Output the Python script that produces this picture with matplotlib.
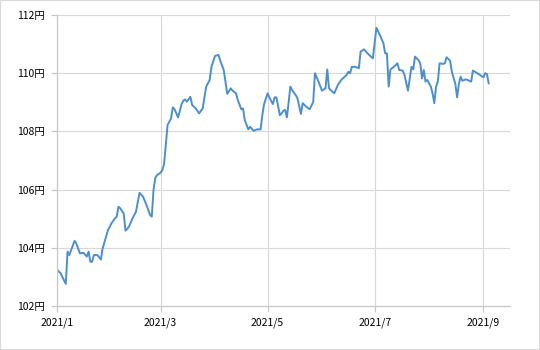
import pandas as pd
import matplotlib
matplotlib.use("Agg")
import matplotlib.pyplot as plt
from matplotlib.patches import Rectangle

plt.rcParams['font.family'] = ['Noto Sans CJK JP', 'DejaVu Sans']

# USD/JPY rate
dates = [
    "2021-01-01", "2021-01-03", "2021-01-04", "2021-01-06", "2021-01-07", "2021-01-08",
    "2021-01-11", "2021-01-12", "2021-01-14", "2021-01-16", "2021-01-18", "2021-01-19",
    "2021-01-20", "2021-01-21", "2021-01-22", "2021-01-24", "2021-01-26", "2021-01-27",
    "2021-01-30", "2021-02-01", "2021-02-03", "2021-02-04", "2021-02-05", "2021-02-06",
    "2021-02-08", "2021-02-09", "2021-02-10", "2021-02-11", "2021-02-13", "2021-02-15",
    "2021-02-17", "2021-02-19", "2021-02-21", "2021-02-23", "2021-02-24", "2021-02-25",
    "2021-02-26", "2021-02-27", "2021-03-01", "2021-03-02", "2021-03-03", "2021-03-05",
    "2021-03-07", "2021-03-08", "2021-03-09", "2021-03-11", "2021-03-13", "2021-03-14",
    "2021-03-15", "2021-03-16", "2021-03-18", "2021-03-19", "2021-03-21", "2021-03-23",
    "2021-03-25", "2021-03-27", "2021-03-29", "2021-03-30", "2021-04-01", "2021-04-03",
    "2021-04-04", "2021-04-06", "2021-04-07", "2021-04-08", "2021-04-10", "2021-04-11",
    "2021-04-13", "2021-04-14", "2021-04-16", "2021-04-17", "2021-04-18", "2021-04-20",
    "2021-04-21", "2021-04-23", "2021-04-25", "2021-04-27", "2021-04-28", "2021-04-29",
    "2021-05-01", "2021-05-02", "2021-05-04", "2021-05-05", "2021-05-06", "2021-05-08",
    "2021-05-09", "2021-05-10", "2021-05-11", "2021-05-12", "2021-05-14", "2021-05-15",
    "2021-05-17", "2021-05-18", "2021-05-20", "2021-05-21", "2021-05-23", "2021-05-25",
    "2021-05-27", "2021-05-28", "2021-05-30", "2021-06-01", "2021-06-03", "2021-06-04",
    "2021-06-05", "2021-06-07", "2021-06-08", "2021-06-10", "2021-06-12", "2021-06-15",
    "2021-06-16", "2021-06-17", "2021-06-18", "2021-06-20", "2021-06-22", "2021-06-23",
    "2021-06-25", "2021-06-27", "2021-06-30", "2021-07-02", "2021-07-04", "2021-07-06",
    "2021-07-07", "2021-07-08", "2021-07-09", "2021-07-10", "2021-07-12", "2021-07-14",
    "2021-07-15", "2021-07-17", "2021-07-18", "2021-07-20", "2021-07-22", "2021-07-23",
    "2021-07-24", "2021-07-26", "2021-07-27", "2021-07-28", "2021-07-29", "2021-07-30",
    "2021-07-31", "2021-08-02", "2021-08-03", "2021-08-04", "2021-08-05", "2021-08-06",
    "2021-08-07", "2021-08-09", "2021-08-10", "2021-08-11", "2021-08-13", "2021-08-14",
    "2021-08-16", "2021-08-17", "2021-08-18", "2021-08-19", "2021-08-20", "2021-08-22",
    "2021-08-24", "2021-08-25", "2021-08-26", "2021-08-28", "2021-08-30", "2021-09-01",
    "2021-09-02", "2021-09-03", "2021-09-04",
]
rates = [
    103.24, 103.13, 103.00, 102.76, 103.87, 103.75,
    104.24, 104.15, 103.81, 103.83, 103.70, 103.87,
    103.52, 103.52, 103.75, 103.75, 103.60, 103.98,
    104.60, 104.84, 105.01, 105.07, 105.41, 105.36,
    105.18, 104.59, 104.65, 104.73, 105.01, 105.24,
    105.89, 105.76, 105.47, 105.13, 105.07, 106.00,
    106.40, 106.50, 106.58, 106.67, 106.88, 108.22,
    108.45, 108.83, 108.76, 108.48, 108.94, 109.06,
    109.10, 109.02, 109.19, 108.91, 108.79, 108.62,
    108.79, 109.54, 109.77, 110.22, 110.59, 110.63,
    110.43, 110.11, 109.71, 109.29, 109.48, 109.40,
    109.31, 109.08, 108.76, 108.79, 108.39, 108.07,
    108.16, 108.02, 108.07, 108.07, 108.56, 108.94,
    109.31, 109.17, 108.94, 109.17, 109.17, 108.56,
    108.62, 108.71, 108.74, 108.48, 109.54, 109.42,
    109.25, 109.14, 108.60, 108.97, 108.85, 108.76,
    109.02, 110.00, 109.71, 109.40, 109.48, 110.13,
    109.48, 109.36, 109.31, 109.59, 109.77, 109.94,
    110.05, 110.00, 110.22, 110.22, 110.17, 110.74,
    110.82, 110.68, 110.51, 111.56, 111.31, 111.03,
    110.68, 110.68, 109.54, 110.13, 110.22, 110.34,
    110.11, 110.09, 109.94, 109.40, 110.22, 110.13,
    110.57, 110.45, 110.34, 109.82, 110.11, 109.71,
    109.77, 109.54, 109.31, 108.97, 109.54, 109.71,
    110.34, 110.32, 110.34, 110.55, 110.43, 110.05,
    109.63, 109.17, 109.63, 109.88, 109.74, 109.79,
    109.74, 109.71, 110.09, 110.02, 109.94, 109.86,
    110.00, 109.97, 109.65,
]
y_ticks = [102, 104, 106, 108, 110, 112]
x_ticks = ["2021-01-01", "2021-03-01", "2021-05-01", "2021-07-01", "2021-09-01"]

df = pd.DataFrame({"rate": rates}, index=pd.to_datetime(dates))

fig = plt.figure(figsize=(5.4, 3.5), dpi=100)
ax = fig.add_axes([0.1056, 0.1257, 0.8384, 0.8314])

ax.plot(df.index, df["rate"], color="#4d8fcc", lw=1.4)

ax.set_xlim(pd.Timestamp("2021-01-01"), pd.Timestamp("2021-09-16"))
ax.set_ylim(102, 112)
ax.set_yticks(y_ticks)
ax.set_yticklabels([f"{v}円" for v in y_ticks])
ax.set_xticks(pd.to_datetime(x_ticks))
ax.set_xticklabels([f"2021/{pd.Timestamp(d).month}" for d in x_ticks])

ax.grid(True, color="#d8d8d8", lw=0.8)
ax.set_axisbelow(True)
for s in ["top", "right"]:
    ax.spines[s].set_visible(False)
for s in ["left", "bottom"]:
    ax.spines[s].set_color("#c8c8c8")
    ax.spines[s].set_linewidth(0.9)
ax.tick_params(axis="both", colors="#c8c8c8", length=4, width=0.9,
               labelsize=7.5, labelcolor="black")
ax.tick_params(axis="x", pad=4)
ax.tick_params(axis="y", pad=5)

fig.patches.append(Rectangle((0, 0), 1, 1, transform=fig.transFigure,
                             fill=False, edgecolor="#d9d9d9", lw=1.5))

fig.savefig("out.png", dpi=100)
